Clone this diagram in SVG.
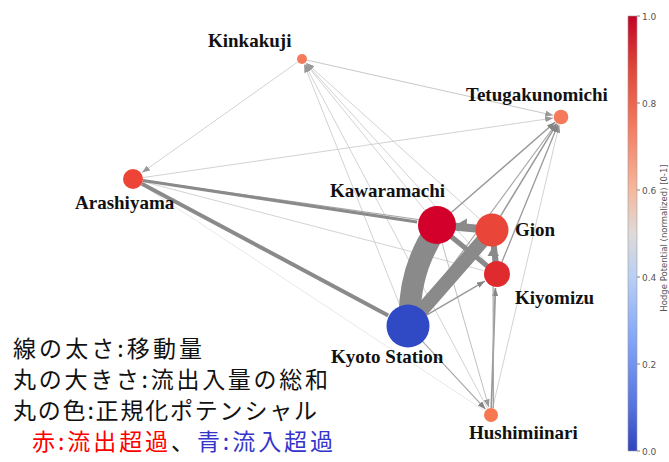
<svg xmlns="http://www.w3.org/2000/svg" width="669" height="462" viewBox="0 0 669 462">
<style>
.lbl{font-family:"Liberation Serif","Times New Roman",serif;font-weight:bold;font-size:19px;fill:#111}
.leg{font-family:"Noto Sans CJK JP","Noto Sans",sans-serif;font-size:23px;fill:#111}
.tk{font-family:"DejaVu Sans",sans-serif;font-size:9px;fill:#555}
.e1{stroke:#cdcdcd;stroke-width:0.9;fill:none}
.e0{stroke:#e2e2e2;stroke-width:0.8;fill:none}
.e2{stroke:#9a9a9a;stroke-width:1.5;fill:none}
.e3{stroke:#8a8a8a;fill:none}
</style>
<defs>
<marker id="am" viewBox="0 0 8 6" refX="8" refY="3" markerWidth="8" markerHeight="6" markerUnits="userSpaceOnUse" orient="auto"><path d="M0,0 L8,3 L0,6 z" fill="#858585"/></marker>
<marker id="al" viewBox="0 0 8 6" refX="8" refY="3" markerWidth="8" markerHeight="6" markerUnits="userSpaceOnUse" orient="auto"><path d="M0,0 L8,3 L0,6 z" fill="#999999"/></marker>
<linearGradient id="cb" x1="0" y1="0" x2="0" y2="1">
<stop offset="0" stop-color="#c40325"/>
<stop offset="0.12" stop-color="#e0473a"/>
<stop offset="0.25" stop-color="#f4795e"/>
<stop offset="0.4" stop-color="#f5b89e"/>
<stop offset="0.5" stop-color="#dedad8"/>
<stop offset="0.6" stop-color="#b9cff4"/>
<stop offset="0.75" stop-color="#80a4f8"/>
<stop offset="0.9" stop-color="#5572de"/>
<stop offset="1" stop-color="#3044bf"/>
</linearGradient>
</defs>
<rect width="669" height="462" fill="#ffffff"/>

<g id="edges">
<line class="e0" x1="141.4" y1="184.5" x2="484.3" y2="410.6"/>
<line class="e1" x1="297.9" y1="61.9" x2="142" y2="172.6" marker-end="url(#al)"/>
<line class="e1" x1="142.7" y1="181.5" x2="483.5" y2="270.5"/>
<line class="e1" x1="142.9" y1="177.6" x2="553.1" y2="118.1" marker-end="url(#al)"/>
<line class="e1" x1="306.9" y1="60.1" x2="553.2" y2="115.3" marker-end="url(#al)" style="stroke:#c2c2c2"/>
<line class="e1" x1="425" y1="210.3" x2="305.8" y2="63.7" marker-end="url(#al)"/>
<line class="e1" x1="479.7" y1="219" x2="306.5" y2="63" marker-end="url(#al)"/>
<line class="e1" x1="488.3" y1="264.4" x2="306" y2="63.4" marker-end="url(#al)"/>
<line class="e1" x1="400.1" y1="306" x2="304.2" y2="64.6" marker-end="url(#al)"/>
<line class="e1" x1="487.7" y1="408.8" x2="304.8" y2="64.3" marker-end="url(#al)"/>
<line class="e1" x1="492.6" y1="408.2" x2="559.2" y2="124.8" marker-end="url(#al)"/>
<line class="e1" x1="442.2" y1="243.3" x2="488.8" y2="407.3" marker-end="url(#al)" style="stroke:#b8b8b8"/>

<line class="e2" x1="451.3" y1="212.5" x2="555" y2="122.3" marker-end="url(#am)"/>
<line class="e2" x1="500.6" y1="215.9" x2="556.8" y2="123.8" marker-end="url(#am)"/>
<line class="e2" x1="501.9" y1="262" x2="558" y2="124.4" marker-end="url(#am)" style="stroke-width:1.3"/>
<line class="e2" x1="420.7" y1="308.6" x2="556.3" y2="123.5" marker-end="url(#am)" style="stroke-width:1.2;stroke:#a8a8a8"/>
<line class="e2" x1="426.6" y1="315.1" x2="484.9" y2="281.1" marker-end="url(#am)"/>
<line class="e2" x1="422.7" y1="341.7" x2="485.5" y2="409.2" marker-end="url(#am)" style="stroke:#a8a8a8;stroke-width:1.2"/>
<line class="e2" x1="491.3" y1="408" x2="495.4" y2="288" marker-end="url(#am)" style="stroke-width:1.8"/>
<line class="e2" x1="493.5" y1="408" x2="493" y2="247.5" style="stroke:#a5a5a5;stroke-width:1.2"/>
<line class="e2" x1="142.9" y1="180.4" x2="474.7" y2="227.5" style="stroke:#aaaaaa;stroke-width:1.1"/>

<line class="e3" x1="142.9" y1="180.5" x2="417.2" y2="222" style="stroke-width:3.2"/>
<line class="e3" x1="141.8" y1="183.7" x2="388.2" y2="315.4" style="stroke-width:4"/>
<path class="e3" d="M410,326 Q407,272 437,228" style="stroke-width:22"/>
<line class="e3" x1="408" y1="326" x2="492" y2="230" style="stroke-width:14"/>
<line class="e3" x1="437" y1="225" x2="492" y2="230" style="stroke-width:8"/>
<line class="e3" x1="437" y1="225" x2="497" y2="274" style="stroke-width:5"/>
<line class="e3" x1="492" y1="230" x2="497" y2="274" style="stroke-width:6"/>
<polygon points="456.5,224.5 467,218.5 466.5,231" fill="#8a8a8a"/>
<polygon points="493,246.5 487.5,256 499,256" fill="#8a8a8a"/>
</g>

<g id="node-kinkakuji"><circle cx="302" cy="59" r="5" fill="#f47a5e"/><text class="lbl" x="208" y="47">Kinkakuji</text></g>
<g id="node-tetugakunomichi"><circle cx="561" cy="117" r="7.3" fill="#f57a5b"/><text class="lbl" x="466" y="101">Tetugakunomichi</text></g>
<g id="node-arashiyama"><circle cx="133" cy="179" r="10" fill="#ee4437"/><text class="lbl" x="75" y="209">Arashiyama</text></g>
<g id="node-kawaramachi"><circle cx="437" cy="225" r="19" fill="#d2002a"/><text class="lbl" x="330" y="197">Kawaramachi</text></g>
<g id="node-gion"><circle cx="492" cy="230" r="16.5" fill="#ea4539"/><text class="lbl" x="515" y="236">Gion</text></g>
<g id="node-kiyomizu"><circle cx="497" cy="274" r="13" fill="#df2a2e"/><text class="lbl" x="515" y="304">Kiyomizu</text></g>
<g id="node-kyoto-station"><circle cx="408" cy="326" r="21.5" fill="#3049c4"/><text class="lbl" x="331" y="363">Kyoto Station</text></g>
<g id="node-hushimiinari"><circle cx="491" cy="415" r="7" fill="#f7774f"/><text class="lbl" x="469" y="439">Hushimiinari</text></g>

<g id="legend">
<text class="leg" x="13" y="356.5" textLength="189" lengthAdjust="spacing">線の太さ:移動量</text>
<text class="leg" x="13" y="387.5" textLength="315" lengthAdjust="spacing">丸の大きさ:流出入量の総和</text>
<text class="leg" x="13" y="418.5" textLength="304" lengthAdjust="spacing">丸の色:正規化ポテンシャル</text>
<text class="leg" x="32" y="450" textLength="301" lengthAdjust="spacing"><tspan fill="#ff0000">赤:流出超過</tspan><tspan fill="#111">、</tspan><tspan fill="#3535cc">青:流入超過</tspan></text>
</g>

<g id="colorbar">
<rect x="628" y="16" width="9" height="435" fill="url(#cb)" stroke="#9a9a9a" stroke-width="0.6"/>
<g stroke="#666" stroke-width="0.8">
<line x1="637" y1="16" x2="640" y2="16"/>
<line x1="637" y1="103" x2="640" y2="103"/>
<line x1="637" y1="190" x2="640" y2="190"/>
<line x1="637" y1="277" x2="640" y2="277"/>
<line x1="637" y1="364" x2="640" y2="364"/>
<line x1="637" y1="451" x2="640" y2="451"/>
</g>
<text class="tk" x="642" y="19.5">1.0</text>
<text class="tk" x="642" y="106.5">0.8</text>
<text class="tk" x="642" y="193.5">0.6</text>
<text class="tk" x="642" y="280.5">0.4</text>
<text class="tk" x="642" y="367.5">0.2</text>
<text class="tk" x="642" y="454.5">0.0</text>
<text class="tk" transform="translate(667,238) rotate(-90)" text-anchor="middle" style="font-size:8.5px">Hodge Potential (normalized) [0-1]</text>
</g>
</svg>
